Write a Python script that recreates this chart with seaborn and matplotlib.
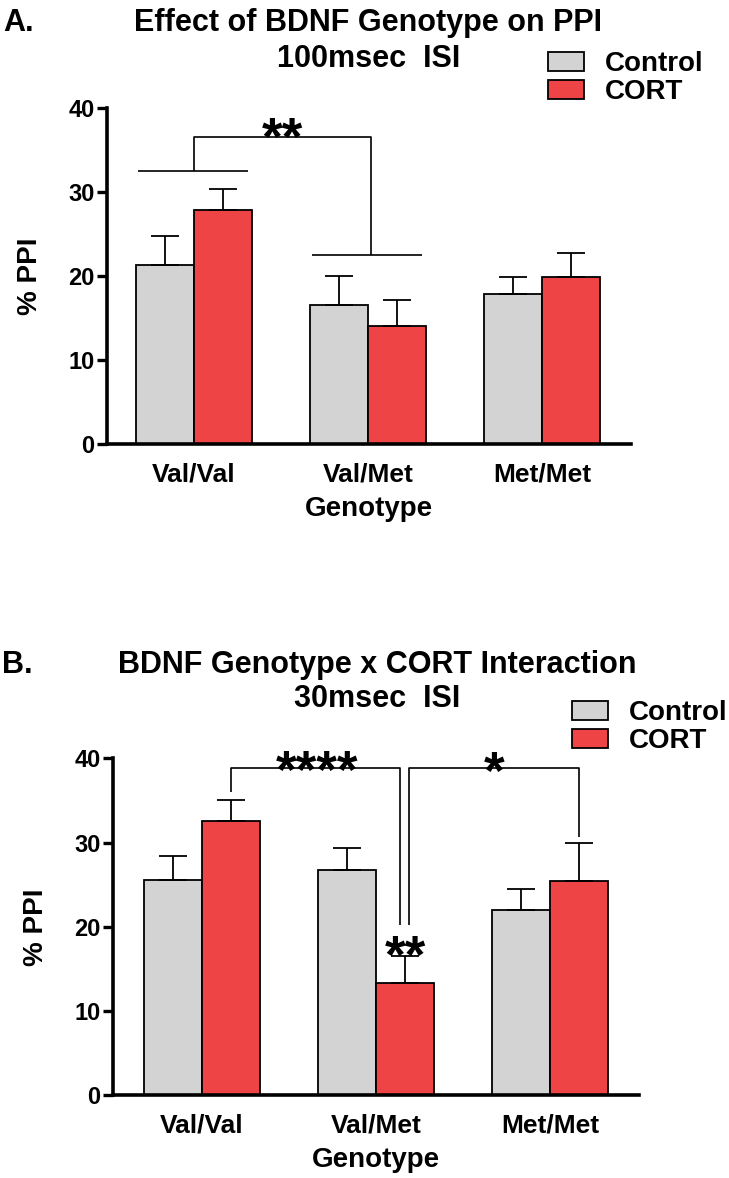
import matplotlib
matplotlib.use("Agg")
import matplotlib.pyplot as plt
import seaborn as sns
import pandas as pd

# ---------------- data ----------------
genotypes = ["Val/Val", "Val/Met", "Met/Met"]
groups = ["Control", "CORT"]

a_control_mean = [21.3, 16.5, 17.9]
a_control_sem = [3.5, 3.5, 2.0]
a_cort_mean = [27.8, 14.1, 19.9]
a_cort_sem = [2.6, 3.0, 2.8]

b_control_mean = [25.5, 26.7, 22.0]
b_control_sem = [2.9, 2.7, 2.5]
b_cort_mean = [32.5, 13.3, 25.4]
b_cort_sem = [2.5, 3.2, 4.5]

yticks = [0, 10, 20, 30, 40]

# ---------------- style ----------------
W, H = 729, 1178
sns.set_theme(style="ticks")
plt.rcParams['font.family'] = ['Liberation Sans', 'DejaVu Sans']
plt.rcParams['font.weight'] = 'bold'
plt.rcParams['axes.labelweight'] = 'bold'
plt.rcParams['text.color'] = 'black'
plt.rcParams['axes.labelcolor'] = 'black'
plt.rcParams['xtick.color'] = 'black'
plt.rcParams['ytick.color'] = 'black'

fig = plt.figure(figsize=(W / 100, H / 100), dpi=100)


def fx(px):
    return px / W


def fy(py):
    return 1 - py / H


palette = {"Control": "#D3D3D3", "CORT": "#EF4446"}


def panel(rect, ctrl_m, ctrl_s, cort_m, cort_s, xlim, legend_xy):
    ax = fig.add_axes(rect)
    df = pd.DataFrame({
        "Genotype": genotypes * 2,
        "Group": ["Control"] * 3 + ["CORT"] * 3,
        "PPI": ctrl_m + cort_m,
    })
    sns.barplot(data=df, x="Genotype", y="PPI", hue="Group", hue_order=groups,
                order=genotypes, palette=palette, width=0.667, edgecolor="black",
                linewidth=1.3, errorbar=None, saturation=1, ax=ax)
    for cont, sems in zip(ax.containers, [ctrl_s, cort_s]):
        for bar, s in zip(cont, sems):
            x = bar.get_x() + bar.get_width() / 2
            h = bar.get_height()
            ax.errorbar(x, h, yerr=[[0], [s]], color='black', capsize=10,
                        elinewidth=1.3, capthick=1.3, fmt='none')
    ax.set_ylim(0, 40)
    ax.set_xlim(*xlim)
    ax.set_yticks(yticks)
    for s in ["top", "right"]:
        ax.spines[s].set_visible(False)
    for s in ["left", "bottom"]:
        ax.spines[s].set_linewidth(2.6)
        ax.spines[s].set_color("black")
    ax.tick_params(axis='y', length=7, width=2.4, labelsize=17, pad=2)
    ax.tick_params(axis='x', length=0, labelsize=19, pad=13)
    ax.set_ylabel("% PPI", fontsize=20, fontweight='bold', labelpad=18)
    ax.set_xlabel("Genotype", fontsize=20, fontweight='bold', labelpad=7)
    handles, labels = ax.get_legend_handles_labels()
    ax.legend(handles, labels, loc='upper left',
              bbox_to_anchor=(fx(legend_xy[0]), fy(legend_xy[1])),
              bbox_transform=fig.transFigure, frameon=False, fontsize=20,
              handlelength=1.3, handleheight=0.65, handletextpad=0.75,
              labelspacing=0.08, borderpad=0, borderaxespad=0)
    return ax


def bracket(ax, xs, ys):
    ax.plot(xs, ys, color='black', lw=1.2, clip_on=False, solid_capstyle='butt')


def stars(ax, x, y, s):
    ax.text(x, y, s, ha='center', va='baseline', fontsize=38, fontweight='bold',
            color='black', clip_on=False)


# ---------------- Panel A ----------------
axA = panel([fx(107), fy(444), (631 - 107) / W, (444 - 108) / H],
            a_control_mean, a_control_sem, a_cort_mean, a_cort_sem,
            (-0.5, 2.51), (548, 51))
bracket(axA, [-0.32, 0.31], [32.5, 32.5])
bracket(axA, [0.0, 0.0, 1.017, 1.017], [32.5, 36.5, 36.5, 22.5])
bracket(axA, [0.68, 1.31], [22.5, 22.5])
stars(axA, 0.51, 34.4, "**")

fig.text(fx(3), fy(31), "A.", fontsize=22, fontweight='bold', ha='left', va='baseline')
fig.text(fx(368), fy(31), "Effect of BDNF Genotype on PPI", fontsize=22,
         fontweight='bold', ha='center', va='baseline')
fig.text(fx(369), fy(67), "100msec  ISI", fontsize=22, fontweight='bold',
         ha='center', va='baseline')

# ---------------- Panel B ----------------
axB = panel([fx(113), fy(1095.3), (639 - 113) / W, (1095.3 - 758.3) / H],
            b_control_mean, b_control_sem, b_cort_mean, b_cort_sem,
            (-0.51, 2.51), (572, 700))
bracket(axB, [0.1667, 0.1667, 1.139, 1.139], [36.0, 38.8, 38.8, 20.2])
bracket(axB, [1.192, 1.192, 2.1667, 2.1667], [20.2, 38.8, 38.8, 30.6])
stars(axB, 0.66, 36.5, "****")
stars(axB, 1.68, 36.4, "*")
stars(axB, 1.17, 14.5, "**")

fig.text(fx(2), fy(673), "B.", fontsize=22, fontweight='bold', ha='left', va='baseline')
fig.text(fx(377), fy(673), "BDNF Genotype x CORT Interaction", fontsize=22,
         fontweight='bold', ha='center', va='baseline')
fig.text(fx(377), fy(707), "30msec  ISI", fontsize=22, fontweight='bold',
         ha='center', va='baseline')

fig.savefig("out.png", dpi=100)
